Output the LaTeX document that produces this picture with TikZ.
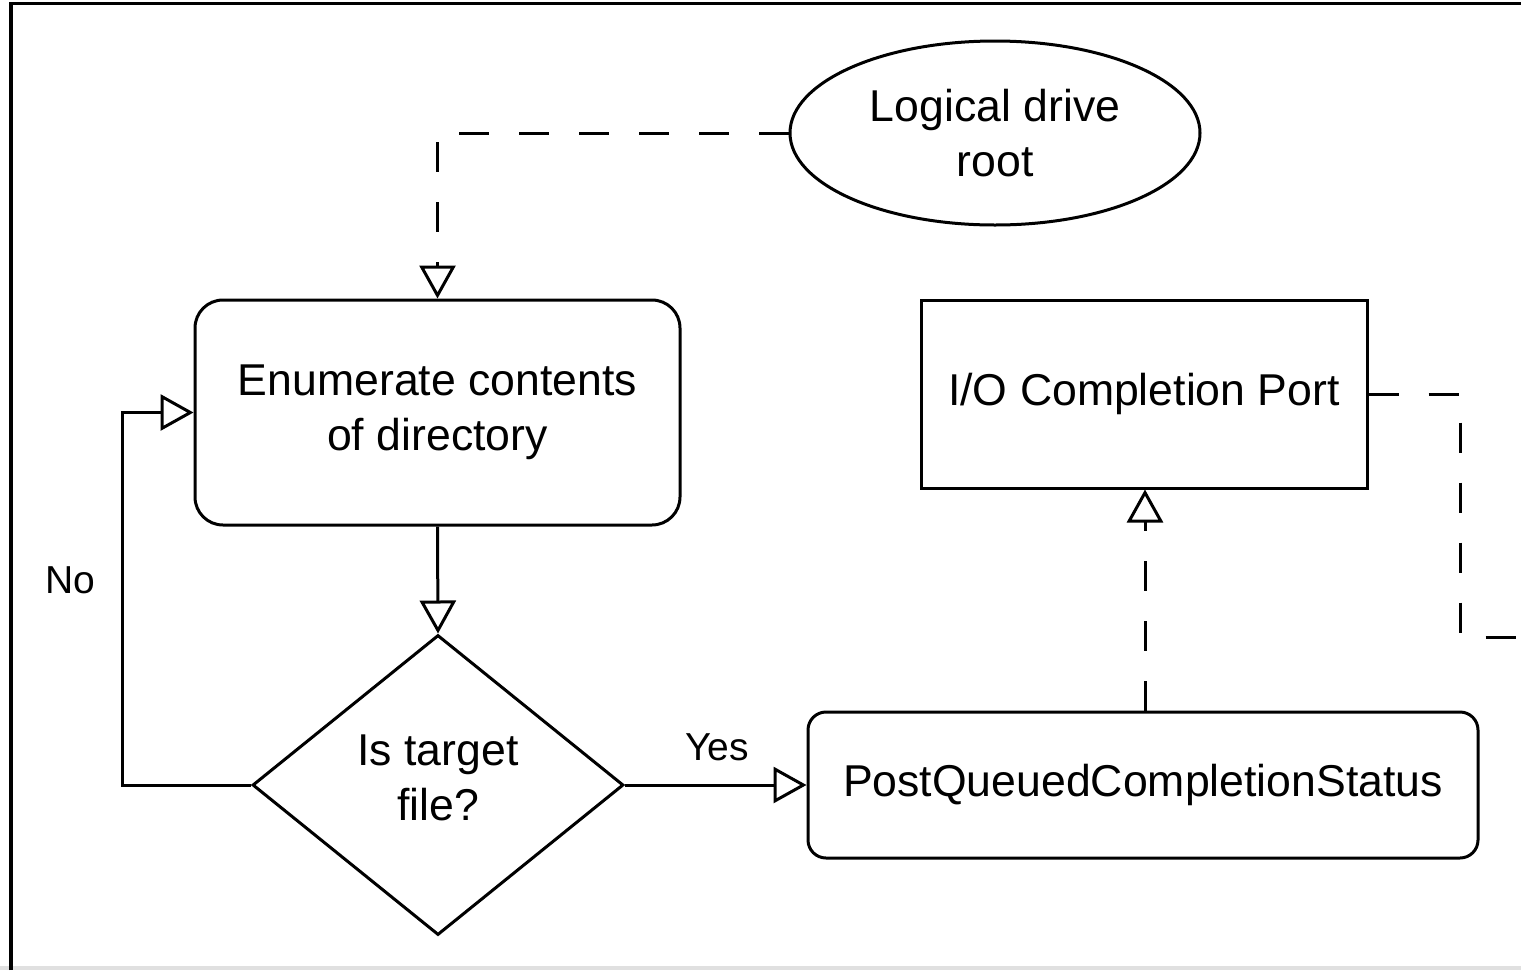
\documentclass[tikz,border=0pt]{standalone}
\usepackage{fontspec}
\setmainfont{Liberation Sans}
\usetikzlibrary{arrows.meta,shapes.geometric}
\begin{document}
\begin{tikzpicture}[x=1pt,y=-1pt,
  every node/.style={font=\fontsize{44.6}{55}\selectfont, align=center, inner sep=0pt},
  conn/.style={line width=3pt, -{Triangle[open,length=33pt,width=36pt,line width=3pt]}},
  dashconn/.style={conn, dash pattern=on 30pt off 30pt},
  plainbox/.style={draw, line width=3pt},
  lbl/.style={font=\fontsize{39}{47}\selectfont}]
  \useasboundingbox (0,0) rectangle (1521,970);
  % outer frame (top and left edges visible) and bottom strip
  \fill[white] (0,0) rectangle (1521,970);
  \fill[black!12] (0,966) rectangle (1521,970);
  \draw[line width=3.5pt] (11,970) -- (11,3.5) -- (1521,3.5);

  % nodes
  \node[plainbox, ellipse, minimum width=410pt, minimum height=184pt] (root) at (995,133) {Logical drive\\root};
  \node[plainbox, rounded corners=28pt, minimum width=485pt, minimum height=225pt] (enum) at (437.5,412.5) {Enumerate contents\\of directory};
  \node[plainbox, diamond, minimum width=371pt, minimum height=300pt] (dec) at (438,785) {};
  \node (dectext) at (438,778) {Is target\\file?};
  \node[plainbox, minimum width=446pt, minimum height=188pt] (iocp) at (1144,394) {I/O Completion Port};
  \node[plainbox, rounded corners=18pt, minimum width=670pt, minimum height=146pt] (pqcs) at (1143,785) {PostQueuedCompletionStatus};

  \coordinate (offright) at (1521,637);

  % connectors
  \draw[dashconn] (root.west) -| (enum.north);
  \draw[conn] (enum.south) -- (dec.north);
  \draw[conn] (dec.west) -- (122,785) |- (enum.west);
  \draw[conn] (dec.east) -- (pqcs.west);
  \draw[dashconn] (pqcs.north -| 1145,0) -- (iocp.south -| 1145,0);
  \draw[line width=3pt, dash pattern=on 30pt off 30pt] (iocp.east) -- (1460,394) |- (offright);

  % labels
  \node[lbl] (nolbl) at (70,580) {No};
  \node[lbl] (yeslbl) at (717,747) {Yes};
\end{tikzpicture}
\end{document}
